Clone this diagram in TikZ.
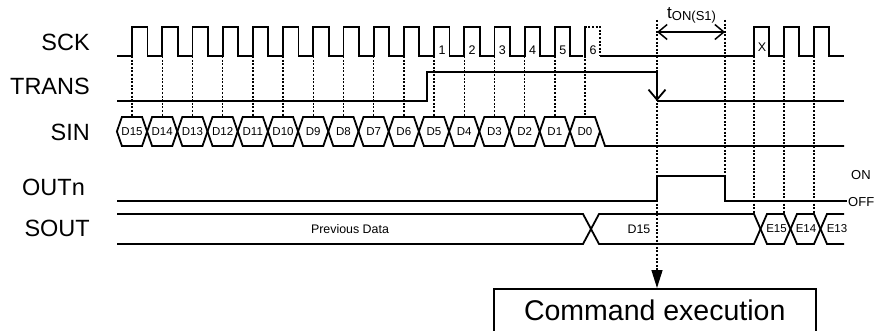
\documentclass[tikz,border=0pt]{standalone}
\usepackage{fontspec}
\setmainfont{Liberation Sans}
\usetikzlibrary{arrows.meta}
\begin{document}
\begin{tikzpicture}[x=1pt,y=-1pt,
  sig/.style={line width=1.8pt, line join=miter},
  dots/.style={line width=1.4pt, dash pattern=on 2pt off 1.6pt},
  lbl/.style={font=\fontsize{23.5}{27}\selectfont, inner sep=0pt},
  small/.style={font=\fontsize{11.5}{13}\selectfont, inner sep=0pt},
  smallb/.style={font=\fontsize{12.4}{14}\selectfont, inner sep=0pt},
  num/.style={font=\fontsize{12.5}{14}\selectfont, inner sep=0pt},
  stateLbl/.style={font=\fontsize{13}{15}\selectfont, inner sep=0pt, anchor=west},
  barb/.style={line width=1.5pt, {Straight Barb[length=9pt,width=15pt]}-{Straight Barb[length=9pt,width=15pt]}}
]
\useasboundingbox (0,0) rectangle (875,331);

% signal names
\node[lbl, anchor=east] (lsck) at (90,42) {SCK};
\node[lbl, anchor=east] (ltrans) at (90,86) {TRANS};
\node[lbl, anchor=east] (lsin) at (90,132) {SIN};
\node[lbl, anchor=west] (lout) at (22,187) {OUTn};
\node[lbl, anchor=east] (lsout) at (90,228) {SOUT};

% SCK
\draw[sig] (117,56) \foreach \k in {0,...,14} { -- ({132+30.2*\k},56) -- ({132+30.2*\k},27) -- ({147.5+30.2*\k},27) -- ({147.5+30.2*\k},56) } -- (583,56);
\draw[dots] (585,56) -- (585,27) -- (600,27) -- (600,56);
\draw[sig] (600,56) -- (754,56) -- (754,27) -- (769,27) -- (769,56) -- (784,56) -- (784,27) -- (799,27) -- (799,56) -- (814,56) -- (814,27) -- (829,27) -- (829,56) -- (844,56);
\foreach \k/\t in {10/1,11/2,12/3,13/4,14/5} \node[num] (n\t) at ({140+30.2*\k},50) {\t};
\node[num] (n6) at (593,50) {6};
\node[num] (nx) at (762,47) {X};

% dotted clock edges to SIN
\foreach \k in {0,...,14} \draw[dots] ({132+30.2*\k},56) -- ({132+30.2*\k},117);
\draw[dots] (585,27) -- (585,117);

% TRANS
\draw[sig] (117,101) -- (427,101) -- (427,72) -- (657,72);
\draw[sig, -{Straight Barb[length=10pt,width=17pt]}] (657,72) -- (657,101);
\draw[sig] (657,101) -- (844,101);

% SIN
\foreach \k [evaluate=\k as \c using 132+30.2*\k, evaluate=\k as \n using int(15-\k)] in {0,...,14} {
  \draw[sig] ({\c-15.1},131.5) -- ({\c-10.1},117) -- ({\c+10.1},117) -- ({\c+15.1},131.5) -- ({\c+10.1},146) -- ({\c-10.1},146) -- cycle;
  \node[small] (d\n) at (\c,131.5) {D\n};
}
\draw[sig] (570,131.5) -- (575,117) -- (595,117) -- (605,146) -- (844,146);
\draw[sig] (570,131.5) -- (575,146) -- (595,146) -- (600,131.5);
\node[small] (d0) at (585,131.5) {D0};

% OUTn
\draw[sig] (117,201) -- (657,201) -- (657,176) -- (725,176) -- (725,201) -- (847,201);
\node[stateLbl] (on) at (851,175) {ON};
\node[stateLbl] (off) at (848,202.5) {OFF};

% SOUT
\draw[sig] (117,214) -- (583,214) -- (599,244) -- (754,244) -- (767,214) -- (784,214) -- (797,244) -- (814,244) -- (827,214) -- (844,214);
\draw[sig] (117,244) -- (583,244) -- (599,214) -- (754,214) -- (767,244) -- (784,244) -- (797,214) -- (814,214) -- (827,244) -- (844,244);
\node[smallb] (prev) at (350,229) {Previous Data};
\node[smallb] (sd15) at (639,229) {D15};
\node[small] (e15) at (776.5,229) {E15};
\node[small] (e14) at (806,229) {E14};
\node[small] (e13) at (837,229) {E13};

% command box
\node[draw, line width=1.5pt, minimum width=322pt, minimum height=44pt, anchor=north west, inner sep=0pt,
      font=\fontsize{28.5}{32}\selectfont] (box) at (493,288) {Command execution};

% t_ON timing
\coordinate (tonA) at (657,20);
\coordinate (tonB) at (725,20);
\coordinate (offE) at (725,176);
\draw[dots, -{Triangle[length=18pt,width=11pt]}] (tonA) -- (tonA |- box.north);
\draw[dots] (tonB) -- (offE);
\draw[barb] ([yshift=-12pt]tonA) -- ([yshift=-12pt]tonB);
\node[inner sep=0pt, anchor=base west] (ton) at (667,19)
  {\fontsize{17}{20}\selectfont t\raisebox{-1.5pt}{\fontsize{13}{15}\selectfont ON(S1)}};
\foreach \x in {754,784,814} \draw[dots] (\x,56) -- (\x,214);
\end{tikzpicture}
\end{document}
